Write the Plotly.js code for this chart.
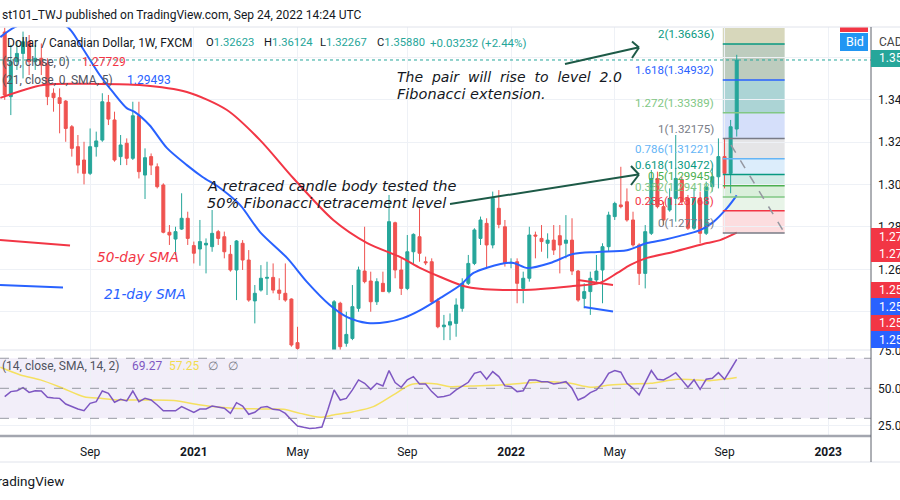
<!DOCTYPE html>
<html><head><meta charset="utf-8">
<script src="https://cdn.plot.ly/plotly-3.0.1.min.js"></script>
<style>html,body{margin:0;padding:0;background:#fff;overflow:hidden}#chart{width:900px;height:500px}</style>
</head><body><div id="chart"></div>
<script>
// ---------- DATA (weekly USD/CAD, FXCM) ----------
const firstWeek = '2020-06-01';
const opens  = [1.3720,1.3415,1.3580,1.3619,1.3674,1.3580,1.3596,1.3572,1.3431,1.3410,1.3394,1.3273,1.3179,1.3116,1.3053,1.3179,1.3210,1.3388,1.3305,1.3132,1.3195,1.3124,1.3325,1.3045,1.3132,1.3084,1.2998,1.2775,1.2743,1.2790,1.2841,1.2712,1.2696,1.2715,1.2707,1.2778,1.2754,1.2671,1.2597,1.2723,1.2644,1.2451,1.2502,1.2558,1.2562,1.2502,1.2487,1.2460,1.2254,null,null,null,null,null,1.2200,1.2440,1.2251,1.2274,1.2416,1.2592,1.2545,1.2447,1.2534,1.2495,1.2820,1.2597,1.2510,1.2683,1.2754,1.2636,1.2636,1.2451,1.2329,1.2337,1.2345,1.2416,1.2534,1.2628,1.2746,1.2817,1.2715,1.2888,1.2801,1.2631,1.2636,1.2510,1.2558,1.2762,1.2746,1.2723,1.2738,1.2759,1.2723,1.2738,1.2592,1.2463,1.2495,1.2550,1.2597,1.2707,1.2849,1.2904,1.2919,1.2833,1.2715,1.2581,1.2770,1.3029,1.2896,1.2880,1.2935,1.3022,1.2935,1.2794,1.2935,1.2770,1.2990,1.3037,1.3132,1.3053,1.32623];
const highs  = [1.3740,1.3659,1.3674,1.3722,1.3706,1.3659,1.3666,1.3596,1.3454,1.3454,1.3399,1.3281,1.3234,1.3202,1.3265,1.3250,1.3431,1.3423,1.3344,1.3234,1.3218,1.3391,1.3391,1.3171,1.3147,1.3100,1.3006,1.2809,1.2801,1.2959,1.2872,1.2731,1.2833,1.2746,1.2880,1.2786,1.2778,1.2715,1.2738,1.2738,1.2691,1.2526,1.2620,1.2636,1.2628,1.2558,1.2628,1.2463,1.2329,null,null,null,null,null,1.2455,1.2447,1.2400,1.2526,1.2613,1.2801,1.2589,1.2558,1.2589,1.2951,1.2825,1.2652,1.2762,1.2770,1.2896,1.2660,1.2652,1.2463,1.2385,1.2392,1.2463,1.2558,1.2668,1.2794,1.2849,1.2841,1.2967,1.2974,1.2833,1.2652,1.2652,1.2589,1.2801,1.2778,1.2809,1.2770,1.2809,1.2809,1.2856,1.2841,1.2597,1.2534,1.2589,1.2668,1.2723,1.2872,1.2919,1.3084,1.2982,1.2872,1.2723,1.2809,1.3069,1.3061,1.2919,1.2982,1.3234,1.3037,1.2951,1.2982,1.2967,1.3014,1.3077,1.3218,1.3218,1.3305,1.36124];
const lows   = [1.3400,1.3328,1.3541,1.3501,1.3517,1.3541,1.3517,1.3375,1.3344,1.3242,1.3202,1.3132,1.3053,1.3001,1.3045,1.3132,1.3202,1.3281,1.3108,1.3092,1.3092,1.3116,1.3029,1.2932,1.3045,1.2982,1.2770,1.2715,1.2668,1.2786,1.2715,1.2628,1.2617,1.2581,1.2683,1.2715,1.2652,1.2589,1.2455,1.2597,1.2447,1.2345,1.2495,1.2479,1.2487,1.2455,1.2447,1.2235,1.2180,null,null,null,null,null,1.2190,1.2212,1.2235,1.2266,1.2400,1.2534,1.2400,1.2432,1.2495,1.2487,1.2558,1.2479,1.2502,1.2620,1.2636,1.2620,1.2440,1.2322,1.2266,1.2266,1.2282,1.2400,1.2526,1.2620,1.2715,1.2605,1.2699,1.2794,1.2613,1.2605,1.2440,1.2440,1.2542,1.2652,1.2683,1.2652,1.2668,1.2581,1.2652,1.2573,1.2447,1.2416,1.2385,1.2534,1.2440,1.2683,1.2833,1.2888,1.2825,1.2707,1.2526,1.2510,1.2762,1.2888,1.2809,1.2872,1.2825,1.2904,1.2786,1.2786,1.2723,1.2762,1.2967,1.2982,1.2982,1.2959,1.32267];
const closes = [1.3423,1.3580,1.3619,1.3674,1.3580,1.3596,1.3564,1.3415,1.3410,1.3383,1.3265,1.3171,1.3092,1.3053,1.3179,1.3206,1.3391,1.3309,1.3116,1.3187,1.3124,1.3325,1.3061,1.3127,1.3092,1.2990,1.2775,1.2762,1.2778,1.2841,1.2746,1.2676,1.2731,1.2723,1.2770,1.2746,1.2683,1.2597,1.2734,1.2644,1.2455,1.2487,1.2558,1.2562,1.2502,1.2487,1.2455,1.2243,1.2227,null,null,null,null,null,1.2447,1.2235,1.2293,1.2424,1.2597,1.2542,1.2447,1.2542,1.2495,1.2825,1.2597,1.2510,1.2683,1.2765,1.2676,1.2631,1.2447,1.2329,1.2337,1.2353,1.2432,1.2534,1.2628,1.2786,1.2833,1.2715,1.2935,1.2812,1.2628,1.2633,1.2534,1.2558,1.2762,1.2757,1.2731,1.2738,1.2691,1.2715,1.2738,1.2592,1.2455,1.2495,1.2558,1.2592,1.2707,1.2856,1.2911,1.2896,1.2833,1.2715,1.2581,1.2778,1.3029,1.2896,1.2833,1.2935,1.3029,1.2919,1.2794,1.2935,1.2770,1.2990,1.3037,1.3132,1.3053,1.3273,1.35880];
const rsi14  = [44.4,47.8,48.4,50.4,47.3,48.4,48.2,44.0,43.6,43.3,39.5,37.8,36.2,35.1,40.0,41.1,48.2,46.7,40.7,42.7,41.6,48.2,41.1,43.3,42.2,38.9,35.0,35.0,35.0,37.8,36.0,34.0,36.2,36.2,38.2,37.5,36.7,33.3,40.4,38.2,32.7,34.0,37.3,37.8,36.0,35.6,33.3,28.9,24.9,24.0,23.3,23.6,24.2,36.0,48.9,42.2,43.3,48.9,55.6,53.3,49.3,53.3,51.6,61.8,53.8,50.7,55.6,57.8,52.9,52.9,47.8,44.0,44.5,45.6,48.9,51.5,54.0,60.0,61.1,56.0,61.1,57.8,51.6,51.1,47.8,48.4,55.6,55.6,54.4,54.4,52.9,53.5,54.4,50.0,42.2,44.0,47.1,48.9,53.3,60.0,61.8,60.7,53.3,50.0,45.6,53.8,61.8,56.0,55.6,57.8,60.4,55.6,50.7,55.6,49.3,56.0,56.7,60.4,56.0,62.5,69.27];

const sma50Dates = ['2020-05-27','2020-07-15','2020-09-18','2020-11-03','2020-12-27','2021-02-11','2021-03-21','2021-04-28','2021-06-13','2021-07-22','2021-08-29','2021-09-21','2021-10-14','2021-11-14','2022-01-17','2022-03-15','2022-04-15','2022-05-05','2022-05-20','2022-06-08','2022-07-08','2022-08-16','2022-08-31','2022-09-19'];
const sma50 = [1.3409,1.3470,1.3475,1.3470,1.3437,1.3352,1.3210,1.3031,1.2833,1.2724,1.2658,1.2606,1.2564,1.2517,1.2503,1.2521,1.2536,1.2583,1.2621,1.2654,1.2682,1.2724,1.2738,1.27729];
const sma21Dates = ['2020-05-27','2020-06-13','2020-07-12','2020-08-12','2020-08-27','2020-09-18','2020-10-03','2020-10-19','2020-10-28','2020-11-14','2020-12-04','2020-12-27','2021-01-14','2021-02-03','2021-02-26','2021-03-21','2021-04-21','2021-05-14','2021-06-09','2021-06-29','2021-07-22','2021-08-14','2021-09-01','2021-09-21','2021-10-14','2021-11-06','2021-11-21','2021-12-22','2022-01-06','2022-01-22','2022-02-17','2022-03-15','2022-04-12','2022-05-16','2022-06-08','2022-06-28','2022-07-16','2022-08-08','2022-08-23','2022-09-08','2022-09-19'];
const sma21 = [1.3696,1.3744,1.3780,1.3744,1.3659,1.3517,1.3437,1.3361,1.3343,1.3281,1.3173,1.3092,1.3036,1.2984,1.2904,1.2776,1.2654,1.2540,1.2432,1.2375,1.2347,1.2351,1.2370,1.2408,1.2465,1.2526,1.2583,1.2625,1.2630,1.2606,1.2630,1.2672,1.2682,1.2690,1.2724,1.2740,1.2758,1.2785,1.2823,1.2890,1.29493];
const rsiSmaDates = ['2020-05-27','2020-06-19','2020-07-12','2020-08-04','2020-08-31','2020-09-19','2020-10-12','2020-11-15','2020-12-12','2021-01-12','2021-02-18','2021-03-29','2021-04-17','2021-05-06','2021-05-29','2021-06-13','2021-07-06','2021-07-29','2021-08-21','2021-09-09','2021-09-24','2021-10-10','2021-10-25','2021-11-17','2021-12-22','2022-01-28','2022-02-17','2022-03-12','2022-04-04','2022-04-27','2022-05-20','2022-06-12','2022-07-13','2022-08-04','2022-08-19','2022-09-03','2022-09-19'];
const rsiSma = [64.0,58.9,55.6,50.7,44.4,43.3,42.2,42.2,41.8,38.9,36.7,36.2,36.0,33.3,30.7,32.2,34.4,37.8,45.6,52.2,53.3,52.9,51.1,51.6,52.2,53.8,54.4,53.3,50.7,52.2,52.9,53.3,56.0,55.6,55.1,56.0,57.25];

const fibRatios = ['0','0.236','0.382','0.5','0.618','0.786','1','1.272','1.618','2'];
const fibPrices = [1.27715,1.28768,1.29418,1.29945,1.30472,1.31221,1.32175,1.33389,1.34932,1.36636];
const fibStart = '2022-09-03', fibEnd = '2022-11-13';

const tickDates  = ['2020-09-07','2021-01-04','2021-05-03','2021-09-06','2022-01-03','2022-05-02','2022-09-05','2023-01-02'];
const tickLabels = ['Sep','<b>2021</b>','May','Sep','<b>2022</b>','May','Sep','<b>2023</b>'];
const priceTicks = [1.24,1.26,1.28,1.30,1.32,1.34,1.36];

// ---------- helpers ----------
function weekDates(start, n){
  const out=[]; const d=new Date(start+'T00:00:00Z');
  for(let i=0;i<n;i++){ const t=new Date(d.getTime()+i*7*86400000); out.push(t.toISOString().slice(0,10)); }
  return out;
}
const dates = weekDates(firstWeek, closes.length);
const W=871, BOT=435, H=408;
const P = x => x/W, Q = y => (BOT-y)/H;
const UI = 'Roboto, "Liberation Sans", sans-serif';
const DRAW = '"DejaVu Sans", sans-serif';
const NB = '\u00a0';

// ---------- traces ----------
const traces = [
  {type:'candlestick', x:dates, open:opens, high:highs, low:lows, close:closes, xaxis:'x', yaxis:'y',
   increasing:{line:{color:'#26a69a',width:1},fillcolor:'#26a69a'},
   decreasing:{line:{color:'#ef5350',width:1},fillcolor:'#ef5350'},
   whiskerwidth:0, hoverinfo:'skip', showlegend:false},
  {type:'scatter', mode:'lines', x:sma50Dates, y:sma50, yaxis:'y', line:{color:'#f23645',width:2,shape:'spline',smoothing:0.8}, hoverinfo:'skip', showlegend:false},
  {type:'scatter', mode:'lines', x:sma21Dates, y:sma21, yaxis:'y', line:{color:'#2962ff',width:2,shape:'spline',smoothing:0.8}, hoverinfo:'skip', showlegend:false},
  {type:'scatter', mode:'lines', x:rsiSmaDates, y:rsiSma, yaxis:'y2', line:{color:'#f5e060',width:1.5,shape:'spline',smoothing:0.8}, hoverinfo:'skip', showlegend:false},
  {type:'scatter', mode:'lines', x:dates, y:rsi14, yaxis:'y2', line:{color:'#7e57c2',width:1.5}, hoverinfo:'skip', showlegend:false}
];

// ---------- shapes ----------
const shapes = [];
shapes.push({type:'rect',xref:'paper',x0:0,x1:1,yref:'y2',y0:30,y1:70,fillcolor:'rgba(126,87,194,0.1)',line:{width:0},layer:'below'});
[70,50,30].forEach(v=>shapes.push({type:'line',xref:'paper',x0:0,x1:1,yref:'y2',y0:v,y1:v,line:{color:'rgba(120,123,134,0.75)',width:1,dash:'dash'}}));
const fibFill = ['#fcd9db','#e5f3e6','#d6edd7','#cde9e4','#d8ebfb','#e2e2e4','#d0dcfa','#a3cfd0','#b6c7b7'];
const fibLine = ['#787b86','#f23645','#81c784','#4caf50','#089981','#64b5f6','#787b86','#81c784','#2962ff','#089981'];
for(let i=0;i<fibPrices.length-1;i++){
  shapes.push({type:'rect',xref:'x',x0:fibStart,x1:fibEnd,yref:'y',y0:fibPrices[i],y1:fibPrices[i+1],fillcolor:fibFill[i],opacity:0.9,line:{width:0},layer:'below'});
}
shapes.push({type:'rect',xref:'x',x0:fibStart,x1:fibEnd,yref:'paper',y0:Q(44)-0.0001,y1:Q(28),fillcolor:'#d3d3b4',opacity:0.9,line:{width:0},layer:'below'});
fibPrices.forEach((p,i)=>shapes.push({type:'line',xref:'x',x0:fibStart,x1:fibEnd,yref:'y',y0:p,y1:p,line:{color:fibLine[i],width:1.5}}));
shapes.push({type:'line',xref:'paper',yref:'paper',x0:P(731),y0:Q(145),x1:P(784),y1:Q(232),line:{color:'#9598a1',width:1.5,dash:'dash'}});
shapes.push({type:'line',xref:'paper',x0:0,x1:1,yref:'y',y0:closes[closes.length-1],y1:closes[closes.length-1],line:{color:'#26a69a',width:1,dash:'dot'}});
const seg=(x0,y0,x1,y1,c,w)=>shapes.push({type:'line',xref:'paper',yref:'paper',x0:P(x0),y0:Q(y0),x1:P(x1),y1:Q(y1),line:{color:c,width:w||2}});
seg(0,240,70,245.5,'#f23645');
seg(0,285,63,287.5,'#2962ff');
seg(578,280,613,285,'#f23645');
seg(584,307,613,311.5,'#2962ff');
const AC='#1d5a47';
seg(450,204,638,174.5,AC); seg(631,166,639,174.5,AC); seg(639,174.5,631,185,AC);
seg(565,64,638,47.5,AC); seg(632,41.5,639,47.5,AC); seg(639,47.5,632,58,AC);
shapes.push({type:'line',xref:'paper',yref:'paper',x0:0,x1:1,y0:Q(350),y1:Q(350),line:{color:'#e0e3eb',width:1}});
shapes.push({type:'line',xref:'paper',yref:'paper',x0:0,x1:1,y0:Q(436),y1:Q(436),line:{color:'#a3a6af',width:2.5}});
shapes.push({type:'line',xref:'paper',yref:'paper',x0:0,x1:P(900),y0:Q(462),y1:Q(462),line:{color:'#e0e3eb',width:1}});
shapes.push({type:'line',xref:'paper',yref:'paper',x0:0,x1:P(900),y0:Q(27),y1:Q(27),line:{color:'#e0e3eb',width:1}});
shapes.push({type:'line',xref:'paper',yref:'paper',x0:1,x1:1,y0:Q(27),y1:Q(462),line:{color:'#5d606b',width:1}});
const box=(y0,y1,c)=>shapes.push({type:'rect',xref:'paper',yref:'paper',x0:1,x1:P(905),y0:Q(y1),y1:Q(y0),fillcolor:c,line:{width:0}});
box(50,67,'#26a69a'); box(228,245,'#f23645'); box(245,262,'#f23645');
box(282,298,'#f23645'); box(298,315,'#2962ff'); box(315,331,'#f23645'); box(331,348,'#2962ff');
shapes.push({type:'rect',xref:'paper',yref:'paper',x0:P(840),x1:P(868),y0:Q(32),y1:Q(27.5),fillcolor:'#f23645',line:{width:0}});
shapes.push({type:'rect',xref:'paper',yref:'paper',x0:P(840),x1:P(868),y0:Q(51),y1:Q(33),fillcolor:'#2196f3',line:{width:0}});

// ---------- annotations ----------
const ann = [];
const txt=(x,y,t,o)=>ann.push(Object.assign({xref:'paper',yref:'paper',x:P(x),y:Q(y),text:t,showarrow:false,xanchor:'left',yanchor:'middle',font:{family:UI,size:12,color:'#131722'}},o||{}));
txt(0,15,'st101_TWJ published on TradingView.com, Sep 24, 2022 14:24 UTC',{font:{family:UI,size:12,color:'#131722'}});
txt(5,43,'Dollar / Canadian Dollar, 1W, FXCM');
const TEAL='#26a69a';
const OF={family:UI,size:11.2,color:'#131722'};
txt(204,43,'O<span style="color:'+TEAL+'">1.32623</span>',{font:OF});
txt(262,43,'H<span style="color:'+TEAL+'">1.36124</span>',{font:OF});
txt(318,43,'L<span style="color:'+TEAL+'">1.32267</span>',{font:OF});
txt(375,43,'C<span style="color:'+TEAL+'">1.35880</span>',{font:OF});
txt(428,43,'+0.03232 (+2.44%)',{font:{family:UI,size:11.5,color:TEAL}});
const G2='#50535e';
txt(0,62,'(50, close, 0)',{font:{family:UI,size:12,color:G2}});
txt(80,62,'1.27729',{font:{family:UI,size:12,color:'#f23645'}});
txt(0,80,'(21, close, 0, SMA, 5)',{font:{family:UI,size:12,color:G2}});
txt(125,80,'1.29493',{font:{family:UI,size:12,color:'#2962ff'}});
txt(0,366,'(14, close, SMA, 14, 2)',{font:{family:UI,size:12,color:G2}});
txt(130,366,'69.27',{font:{family:UI,size:12,color:'#7e57c2'}});
txt(167,366,'57.25',{font:{family:UI,size:12,color:'#f2dc4e'}});
txt(206,366,'∅',{font:{family:UI,size:12,color:'#787b86'}});
txt(226,366,'∅',{font:{family:UI,size:12,color:'#787b86'}});
const IT={family:DRAW,size:14.5,color:'#131722'};
const D2=NB+NB;
txt(395,77,'<i>The'+D2+'pair'+D2+'will'+D2+'rise'+D2+'to'+D2+'level'+D2+'2.0</i>',{font:{family:DRAW,size:14,color:'#131722'}});
txt(395,94,'<i>Fibonacci extension.</i>',{font:IT});
txt(205,186,'<i>A retraced candle body tested the</i>',{font:IT});
txt(205,203,'<i>50% Fibonacci retracement level</i>',{font:IT});
txt(95,257,'<i>50-day SMA</i>',{font:{family:DRAW,size:13.7,color:'#f23645'}});
txt(102,294,'<i>21-day SMA</i>',{font:{family:DRAW,size:13.7,color:'#2962ff'}});
fibPrices.forEach((p,i)=>ann.push({xref:'x',yref:'y',x:fibStart,y:p,xanchor:'right',yanchor:'middle',xshift:-7,yshift:10,showarrow:false,
  text:fibRatios[i]+'('+p.toFixed(5)+')',font:{family:UI,size:11.5,color:fibLine[i]}}));
const rl=(y,t,c,o)=>txt(877,y,t,Object.assign({font:{family:UI,size:12,color:c||'#ffffff'}},o||{}));
rl(58.5,closes[closes.length-1].toFixed(5));
rl(237,'1.27729'); rl(254,'1.27300');
rl(290,'1.25900'); rl(306.5,'1.25700'); rl(323,'1.25400'); rl(339.5,'1.25200');
rl(42,'CAD',{font:{family:UI,size:12,color:'#50535e'},x:P(880)});
txt(844,42,'Bid',{font:{family:UI,size:12.5,color:'#ffffff'}});
txt(-12,481,'TradingView',{font:{family:UI,size:13.5,color:'#131722'}});

const layout = {
  width:900, height:500, margin:{l:0,r:29,t:27,b:65,pad:0},
  paper_bgcolor:'#ffffff', plot_bgcolor:'#ffffff', showlegend:false, dragmode:false, hovermode:false,
  xaxis:{type:'date', range:['2020-05-26 14:00','2023-02-20 02:00'], anchor:'y2', rangeslider:{visible:false},
    tickmode:'array', tickvals:tickDates, ticktext:tickLabels, ticks:'', showgrid:true, gridcolor:'#eef1f6', gridwidth:1,
    zeroline:false, showline:false, tickfont:{family:UI,size:12,color:'#131722'}, ticklabelstandoff:8, fixedrange:true},
  yaxis:{domain:[85/408,1], range:[1.22194,1.37437], side:'right', anchor:'x', tickmode:'array', tickvals:priceTicks,
    tickformat:'.5f', ticks:'', showgrid:true, gridcolor:'#eef1f6', zeroline:false, showline:false,
    tickfont:{family:UI,size:12,color:'#131722'}, ticklabelstandoff:6, automargin:false, fixedrange:true},
  yaxis2:{domain:[0,85/408], range:[18.9,75.5], side:'right', anchor:'x', tickmode:'array', tickvals:[25,50,75],
    ticktext:['25.00','50.00','75.00'], ticks:'', showgrid:true, gridcolor:'#eef1f6', zeroline:false, showline:false,
    tickfont:{family:UI,size:12,color:'#131722'}, ticklabelstandoff:6, automargin:false, fixedrange:true},
  shapes:shapes, annotations:ann
};
Plotly.newPlot('chart', traces, layout, {displayModeBar:false, staticPlot:true});
</script></body></html>
